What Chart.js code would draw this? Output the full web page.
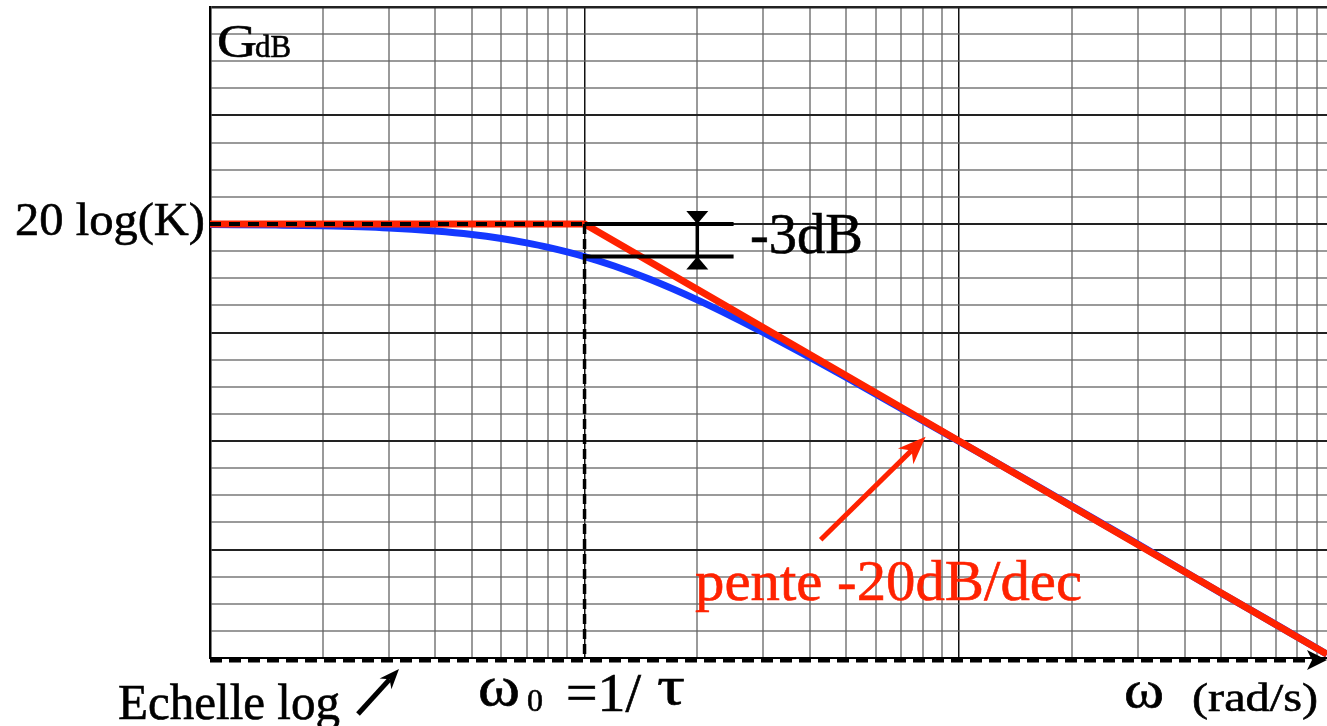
<!DOCTYPE html>
<html>
<head>
<meta charset="utf-8">
<script src="https://cdn.jsdelivr.net/npm/chart.js@4.4.0/dist/chart.umd.min.js"></script>
<style>
  html, body { margin: 0; padding: 0; background: #fff; }
</style>
</head>
<body>
<canvas id="bode" width="1327" height="726"></canvas>
<script>
// courbe reelle du gain
var omegaReel = [0.1, 0.15, 0.2, 0.3, 0.4, 0.5, 0.6, 0.7, 0.8, 1, 1.2, 1.5, 2, 2.5, 3, 4, 5, 7, 10, 15, 20, 30, 50, 70, 96];
var gainReel = [-0.04, -0.1, -0.17, -0.37, -0.65, -0.97, -1.34, -1.74, -2.15, -3.0, -3.87, -5.12, -6.99, -8.6, -10.0, -12.3, -14.15, -17.0, -20.04, -23.5, -26.0, -29.5, -34.0, -36.9, -39.65];

// asymptotes
var omegaAsym = [0.1, 1, 96];
var gainAsym = [0, 0, -39.65];

// grille
var ticksX = [0.1, 0.2, 0.3, 0.4, 0.5, 0.6, 0.7, 0.8, 0.9, 1, 2, 3, 4, 5, 6, 7, 8, 9, 10, 20, 30, 40, 50, 60, 70, 80, 90];
var ticksY = [-40, -37.5, -35, -32.5, -30, -27.5, -25, -22.5, -20, -17.5, -15, -12.5, -10, -7.5, -5, -2.5, 0, 2.5, 5, 7.5, 10, 12.5, 15, 17.5, 20];

var omega0 = 1;
var omegaCote = 2;     // position de la cote -3dB
var omegaCoteFin = 2.5;

var ROUGE = "#ff2200";
var BLEU = "#1438ff";

function pts(xs, ys) {
  return xs.map(function (x, i) { return { x: x, y: ys[i] }; });
}

function isDecade(v) {
  var l = Math.log10(v);
  return Math.abs(l - Math.round(l)) < 1e-6;
}

function txt(ctx, s, x, y, size, w, color) {
  ctx.save();
  ctx.font = size + 'px "Liberation Serif", "DejaVu Serif", serif';
  var m = ctx.measureText(s).width;
  ctx.translate(x, y);
  if (w) ctx.scale(w / m, 1);
  ctx.fillStyle = color || "#000";
  ctx.strokeStyle = color || "#000";
  ctx.lineWidth = 0.6;
  ctx.textBaseline = "alphabetic";
  ctx.fillText(s, 0, 0);
  ctx.strokeText(s, 0, 0);
  ctx.restore();
}

function fleche(ctx, x1, y1, x2, y2, color, lw, len, half) {
  var a = Math.atan2(y2 - y1, x2 - x1);
  ctx.save();
  ctx.strokeStyle = color;
  ctx.fillStyle = color;
  ctx.lineWidth = lw;
  ctx.beginPath();
  ctx.moveTo(x1, y1);
  ctx.lineTo(x2 - Math.cos(a) * len * 0.7, y2 - Math.sin(a) * len * 0.7);
  ctx.stroke();
  ctx.translate(x2, y2);
  ctx.rotate(a);
  ctx.beginPath();
  ctx.moveTo(0, 0);
  ctx.lineTo(-len, -half);
  ctx.lineTo(-len * 0.7, 0);
  ctx.lineTo(-len, half);
  ctx.closePath();
  ctx.fill();
  ctx.restore();
}

var annotations = {
  id: "annotations",
  afterDraw: function (chart) {
    var ctx = chart.ctx;
    var xs = chart.scales.x, ys = chart.scales.y;
    var ca = chart.chartArea;

    // axe des pulsations en pointilles + fleche
    var yb = ca.bottom + 2;
    ctx.save();
    ctx.strokeStyle = "#000";
    ctx.lineWidth = 5;
    ctx.setLineDash([12, 7]);
    ctx.beginPath();
    ctx.moveTo(ca.left, yb);
    ctx.lineTo(1312, yb);
    ctx.stroke();
    ctx.restore();
    ctx.save();
    ctx.fillStyle = "#000";
    ctx.beginPath();
    ctx.moveTo(1327, yb);
    ctx.lineTo(1307, yb - 10);
    ctx.lineTo(1312, yb);
    ctx.lineTo(1307, yb + 10);
    ctx.closePath();
    ctx.fill();
    ctx.restore();

    // cote -3dB
    var xc = xs.getPixelForValue(omegaCote);
    var y0 = ys.getPixelForValue(0), y3 = ys.getPixelForValue(-3);
    ctx.save();
    ctx.strokeStyle = "#000";
    ctx.fillStyle = "#000";
    ctx.lineWidth = 3.5;
    ctx.beginPath();
    ctx.moveTo(xc, y0 - 12);
    ctx.lineTo(xc, y3 + 12);
    ctx.stroke();
    ctx.beginPath();
    ctx.moveTo(xc, y0);
    ctx.lineTo(xc - 11, y0 - 13);
    ctx.lineTo(xc + 11, y0 - 13);
    ctx.closePath();
    ctx.fill();
    ctx.beginPath();
    ctx.moveTo(xc, y3);
    ctx.lineTo(xc - 11, y3 + 13);
    ctx.lineTo(xc + 11, y3 + 13);
    ctx.closePath();
    ctx.fill();
    ctx.restore();

    // fleche rouge vers l'asymptote
    fleche(ctx, xs.getPixelForValue(4.27), ys.getPixelForValue(-29.1),
      xs.getPixelForValue(8.14), ys.getPixelForValue(-19.6), ROUGE, 5, 28, 11);

    // fleche echelle log
    fleche(ctx, 358, 714, 399, 669, "#000", 5, 20, 8);

    // textes
    txt(ctx, "20 log(K)", 15, 235, 46, 190);
    txt(ctx, "G", 217, 57, 47, 40);
    txt(ctx, "dB", 255, 57, 31, 36);
    txt(ctx, "-3dB", 750, 253, 58, 113);
    txt(ctx, "pente -20dB/dec", 695, 600, 58, 387, ROUGE);
    txt(ctx, "Echelle log", 118, 719, 50, 222);
    txt(ctx, "\u03c9", 478, 705, 56, 42);
    txt(ctx, "0", 527, 711, 32, 16);
    txt(ctx, "=1/", 566, 711, 54, 75);
    txt(ctx, "\u03c4", 657, 704, 54, 28);
    txt(ctx, "\u03c9", 1124, 707, 52, 40);
    txt(ctx, "(rad/s)", 1192, 711, 41, 126);
  }
};

var ctx = document.getElementById("bode").getContext("2d");
var chart = new Chart(ctx, {
  type: "line",
  data: {
    datasets: [
      {
        label: "reel",
        data: pts(omegaReel, gainReel),
        borderColor: BLEU,
        borderWidth: 7,
        pointRadius: 0,
        cubicInterpolationMode: "monotone",
        order: 5,
      },
      {
        label: "asymptote",
        data: pts(omegaAsym, gainAsym),
        borderColor: ROUGE,
        borderWidth: 7,
        pointRadius: 0,
        order: 4,
      },
      {
        label: "asymptote pointilles",
        data: pts([0.1, omega0], [0, 0]),
        borderColor: "#000",
        borderWidth: 4,
        borderDash: [11, 8],
        pointRadius: 0,
        order: 2,
      },
      {
        label: "omega0",
        data: pts([omega0, omega0], [0, -40]),
        borderColor: "#000",
        borderWidth: 3.5,
        borderDash: [10, 5],
        pointRadius: 0,
        order: 2,
      },
      {
        label: "cote haut",
        data: pts([omega0, omegaCoteFin], [0, 0]),
        borderColor: "#000",
        borderWidth: 4,
        pointRadius: 0,
        order: 1,
      },
      {
        label: "cote bas",
        data: pts([omega0, omegaCoteFin], [-3, -3]),
        borderColor: "#000",
        borderWidth: 4,
        pointRadius: 0,
        order: 1,
      },
    ],
  },
  options: {
    responsive: false,
    animation: false,
    devicePixelRatio: 1,
    layout: { padding: { left: 210, right: 0, top: 7, bottom: 68 } },
    plugins: { legend: { display: false }, tooltip: { enabled: false } },
    scales: {
      x: {
        type: "logarithmic",
        min: 0.1,
        max: 96,
        ticks: { display: false },
        afterBuildTicks: function (s) {
          s.ticks = ticksX.map(function (v) { return { value: v }; });
        },
        grid: {
          drawTicks: false,
          color: function (c) {
            return isDecade(c.tick.value) ? "#111" : "rgba(100,100,100,0.65)";
          },
          lineWidth: function (c) {
            return isDecade(c.tick.value) ? 1.5 : 2;
          },
        },
        border: { display: true, color: "#000", width: 2 },
      },
      y: {
        type: "linear",
        min: -40,
        max: 20,
        ticks: { display: false },
        afterBuildTicks: function (s) {
          s.ticks = ticksY.map(function (v) { return { value: v }; });
        },
        grid: {
          drawTicks: false,
          color: function (c) {
            return c.tick.value % 10 === 0 ? "#222" : "rgba(100,100,100,0.65)";
          },
          lineWidth: function (c) {
            if (c.tick.value === 20) return 2.5;
            return 2;
          },
        },
        border: { display: true, color: "#000", width: 2.5 },
      },
    },
  },
  plugins: [annotations],
});
</script>
</body>
</html>
